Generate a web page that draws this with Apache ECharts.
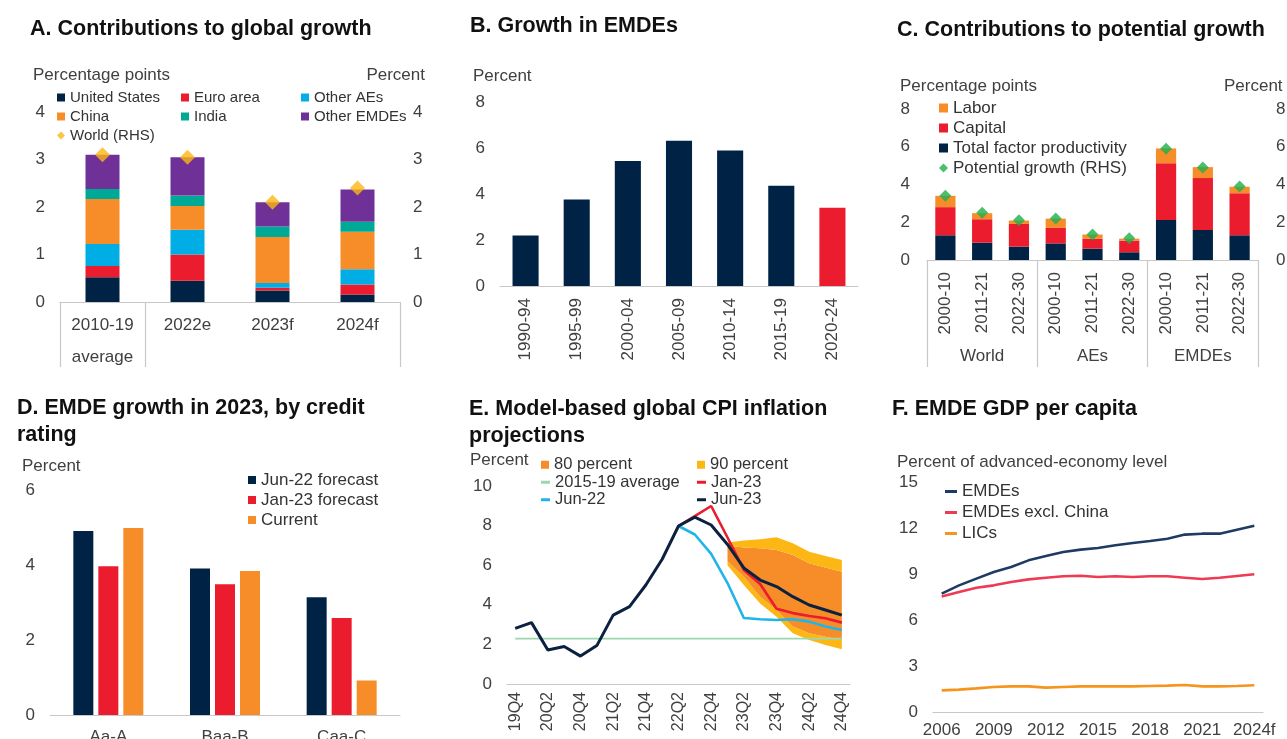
<!DOCTYPE html>
<html>
<head>
<meta charset="utf-8">
<title>Global outlook</title>
<script src="https://cdn.jsdelivr.net/npm/echarts@6.0.0/dist/echarts.min.js"></script>
<style>
  html, body { margin: 0; padding: 0; background: #fff; }
  #chart { width: 1287px; height: 739px; }
</style>
</head>
<body>
<div id="chart"></div>
<script>
// ===== A. Contributions to global growth =====
var aCategories = ['2010-19\naverage', '2022e', '2023f', '2024f'];
var usContrib = [0.52, 0.45, 0.24, 0.16];
var euroContrib = [0.24, 0.55, 0.06, 0.21];
var otherAEContrib = [0.46, 0.52, 0.10, 0.32];
var chinaContrib = [0.95, 0.50, 0.97, 0.79];
var indiaContrib = [0.21, 0.22, 0.22, 0.21];
var otherEMDEContrib = [0.72, 0.81, 0.51, 0.68];
var worldGrowth = [3.1, 3.05, 2.1, 2.4];

// ===== B. Growth in EMDEs =====
var bCategories = ['1990-94', '1995-99', '2000-04', '2005-09', '2010-14', '2015-19', '2020-24'];
var emdeGrowth = [2.2, 3.76, 5.44, 6.31, 5.89, 4.36, 3.4];
var bHighlighted = '2020-24';

// ===== C. Contributions to potential growth =====
var cCategories = ['2000-10', '2011-21', '2022-30', '2000-10', '2011-21', '2022-30', '2000-10', '2011-21', '2022-30'];
var cGroups = ['World', 'AEs', 'EMDEs'];
var tfpContrib = [1.31, 0.92, 0.71, 0.88, 0.60, 0.41, 2.12, 1.59, 1.31];
var capitalContrib = [1.49, 1.24, 1.20, 0.82, 0.53, 0.62, 3.01, 2.75, 2.23];
var laborContrib = [0.60, 0.32, 0.18, 0.49, 0.22, 0.10, 0.78, 0.58, 0.34];
var potentialGrowth = [3.4, 2.5, 2.1, 2.2, 1.35, 1.15, 5.9, 4.9, 3.9];

// ===== D. EMDE growth in 2023, by credit rating =====
var dCategories = ['Aa-A', 'Baa-B', 'Caa-C'];
var jun22Forecast = [4.91, 3.91, 3.14];
var jan23Forecast = [3.97, 3.49, 2.59];
var currentForecast = [4.99, 3.84, 0.92];

// ===== E. Model-based global CPI inflation projections =====
var eQuarters = ['19Q4', '20Q1', '20Q2', '20Q3', '20Q4', '21Q1', '21Q2', '21Q3', '21Q4', '22Q1', '22Q2',
  '22Q3', '22Q4', '23Q1', '23Q2', '23Q3', '23Q4', '24Q1', '24Q2', '24Q3', '24Q4'];
var cpiJun23 = [2.81, 3.10, 1.72, 1.89, 1.41, 1.94, 3.48, 3.91, 5.0, 6.30, 7.98, 8.43, 8.03, 7.05, 5.86, 5.25, 4.92, 4.41, 3.99, 3.74, 3.48];
var cpiJan23 = [null, null, null, null, null, null, null, null, null, null, 7.98, 8.48, 8.99, 7.4, 5.76, 5.05, 3.8, 3.58, 3.43, 3.32, 3.1];
var cpiJun22 = [null, null, null, null, null, null, null, null, null, null, 7.98, 7.55, 6.57, 5.1, 3.33, 3.27, 3.23, 3.27, 3.15, 2.9, 2.73];
var cpiAvg1519 = [2.29, 2.29, 2.29, 2.29, 2.29, 2.29, 2.29, 2.29, 2.29, 2.29, 2.29, 2.29, 2.29, 2.29, 2.29, 2.29, 2.29, 2.29, 2.29, 2.29, 2.29];
// fan chart bounds
var band90Low = [null, null, null, null, null, null, null, null, null, null, null, null, null, 6.0, 5.0, 4.07, 3.4, 2.56, 2.22, 1.97, 1.75];
var band80Low = [null, null, null, null, null, null, null, null, null, null, null, null, null, 6.2, 5.42, 4.41, 3.74, 2.9, 2.56, 2.39, 2.22];
var band80High = [null, null, null, null, null, null, null, null, null, null, null, null, null, 7.0, 6.9, 6.85, 6.77, 6.52, 6.10, 5.89, 5.67];
var band90High = [null, null, null, null, null, null, null, null, null, null, null, null, null, 7.15, 7.25, 7.31, 7.41, 7.11, 6.68, 6.46, 6.26];

// ===== F. EMDE GDP per capita =====
var fYears = ['2006', '2007', '2008', '2009', '2010', '2011', '2012', '2013', '2014', '2015', '2016',
  '2017', '2018', '2019', '2020', '2021', '2022', '2023', '2024f'];
var gdpEMDEs = [7.72, 8.26, 8.7, 9.13, 9.46, 9.89, 10.17, 10.43, 10.59, 10.7, 10.87, 11.02, 11.15, 11.3, 11.57, 11.63, 11.63, 11.89, 12.15];
var gdpExChina = [7.54, 7.83, 8.1, 8.26, 8.48, 8.65, 8.76, 8.85, 8.89, 8.8, 8.85, 8.8, 8.85, 8.85, 8.76, 8.67, 8.76, 8.87, 8.98];
var gdpLICs = [1.41, 1.46, 1.54, 1.63, 1.67, 1.67, 1.59, 1.63, 1.67, 1.67, 1.67, 1.67, 1.70, 1.72, 1.76, 1.67, 1.67, 1.70, 1.74];

// colours
var NAVY = '#002345';
var RED = '#EB1C2D';
var CYAN = '#00ADE4';
var ORANGE = '#F78D28';
var TEAL = '#00A996';
var PURPLE = '#6F3198';
var GOLD = '#FDB714';
var GREEN = '#1FAF4B';
var AXIS = '#C8C8C8';
var LABEL = '#404040';
var FONT = '"Liberation Sans", Arial, sans-serif';

// stacked band pieces: difference between two read bounds
function bandPiece(top, bottom) {
  return top.map(function (v, i) {
    return v == null ? null : +(v - bottom[i]).toFixed(3);
  });
}

function tickLabel(extra) {
  return Object.assign({ color: LABEL, fontSize: 17, fontFamily: FONT }, extra || {});
}

function valueAxis(grid, max, step, extra) {
  var ax = {
    type: 'value', gridIndex: grid, min: 0, max: max, interval: step,
    splitLine: { show: false }, axisLine: { show: false }, axisTick: { show: false },
    axisLabel: tickLabel({ margin: 15 })
  };
  return Object.assign(ax, extra || {});
}

function categoryAxis(grid, data, label, extra) {
  var ax = {
    type: 'category', gridIndex: grid, data: data, position: 'bottom',
    axisLine: { show: true, lineStyle: { color: AXIS, width: 1.2 } },
    axisTick: { show: false },
    axisLabel: tickLabel(Object.assign({ interval: 0 }, label || {}))
  };
  return Object.assign(ax, extra || {});
}

// fixed-size plot box, labels may run off the page edge like the original
function box(left, top, width, height) {
  return { left: left, top: top, width: width, height: height, containLabel: false, outerBoundsMode: 'none' };
}

function heading(text, left, top) {
  return {
    text: text, left: left, top: top, padding: 0,
    textStyle: { fontSize: 21.5, fontWeight: 'bold', color: '#111', fontFamily: FONT, lineHeight: 27 }
  };
}

function unitLabel(text, pos) {
  return Object.assign({
    text: text, padding: 0,
    textStyle: { fontSize: 17, fontWeight: 'normal', color: LABEL, fontFamily: FONT, lineHeight: 19 }
  }, pos);
}

function legendBlock(names, left, top, rowHeight, iconW, iconH, fontSize) {
  return {
    orient: 'vertical', left: left, top: top, padding: 0, itemGap: 0,
    itemWidth: iconW, itemHeight: iconH, selectedMode: false,
    textStyle: { color: '#333', fontSize: fontSize, fontFamily: FONT, lineHeight: rowHeight },
    data: names
  };
}

// short thick dash used as legend key for line series
function dashKeys(names) {
  return names.map(function (n) { return { name: n, icon: 'rect' }; });
}

function line(name, data, color, width, x, y) {
  return {
    name: name, type: 'line', xAxisIndex: x, yAxisIndex: y, data: data,
    symbol: 'none', lineStyle: { color: color, width: width }, itemStyle: { color: color }
  };
}

function bandSeries(name, data, color) {
  return {
    name: name, type: 'line', stack: 'fan', xAxisIndex: 5, yAxisIndex: 6, data: data,
    symbol: 'none', lineStyle: { width: 0 }, itemStyle: { color: color },
    areaStyle: { color: color, opacity: 1 }, silent: true
  };
}

var chart = echarts.init(document.getElementById('chart'), null, { renderer: 'canvas' });

var option = {
  animation: false,
  backgroundColor: '#fff',
  textStyle: { fontFamily: FONT },
  title: [
    heading('A. Contributions to global growth', 30, 16),
    heading('B. Growth in EMDEs', 470, 13),
    heading('C. Contributions to potential growth', 897, 17),
    heading('D. EMDE growth in 2023, by credit\nrating', 17, 395),
    heading('E. Model-based global CPI inflation\nprojections', 469, 396),
    heading('F. EMDE GDP per capita', 892, 396),
    unitLabel('Percentage points', { left: 33, top: 66 }),
    unitLabel('Percent', { right: 862, top: 66 }),
    unitLabel('Percent', { left: 473, top: 67 }),
    unitLabel('Percentage points', { left: 900, top: 77 }),
    unitLabel('Percent', { left: 1224, top: 77 }),
    unitLabel('Percent', { left: 22, top: 457 }),
    unitLabel('Percent', { left: 470, top: 451 }),
    unitLabel('Percent of advanced-economy level', { left: 897, top: 453 })
  ],
  legend: [
    // A: three columns
    legendBlock([{ name: 'United States', icon: 'rect' }, { name: 'China', icon: 'rect' }, { name: 'World (RHS)', icon: 'diamond' }], 57, 88, 19, 8, 8, 15),
    legendBlock([{ name: 'Euro area', icon: 'rect' }, { name: 'India', icon: 'rect' }], 181, 88, 19, 8, 8, 15),
    legendBlock([{ name: 'Other AEs', icon: 'rect' }, { name: 'Other EMDEs', icon: 'rect' }], 301, 88, 19, 8, 8, 15),
    // C
    legendBlock([{ name: 'Labor', icon: 'rect' }, { name: 'Capital', icon: 'rect' }, { name: 'Total factor productivity', icon: 'rect' }, { name: 'Potential growth (RHS)', icon: 'diamond' }], 939, 98, 20, 9, 9, 17),
    // D
    legendBlock([{ name: 'Jun-22 forecast', icon: 'rect' }, { name: 'Jan-23 forecast', icon: 'rect' }, { name: 'Current', icon: 'rect' }], 248, 470, 20, 8, 8, 17),
    // E: two columns, band keys on the first row, line keys below
    legendBlock([{ name: '80 percent', icon: 'rect' }], 541, 456, 17.5, 8, 8, 16.5),
    legendBlock(dashKeys(['2015-19 average', 'Jun-22']), 541, 473.5, 17.5, 9, 3, 16.5),
    legendBlock([{ name: '90 percent', icon: 'rect' }], 697, 456, 17.5, 8, 8, 16.5),
    legendBlock(dashKeys(['Jan-23', 'Jun-23']), 697, 473.5, 17.5, 9, 3, 16.5),
    // F
    legendBlock(dashKeys(['EMDEs', 'EMDEs excl. China', 'LICs']), 945, 481, 21, 12, 3, 17)
  ],
  grid: [
    box(60, 112, 340, 190),
    box(500, 102, 358, 184),
    box(927, 109, 331, 151),
    box(50, 490, 350, 225),
    box(507, 486, 343, 198),
    box(933, 482, 330, 230)
  ],
  xAxis: [
    // A: boxes under the first category and around the forecasts
    categoryAxis(0, aCategories, { margin: 7, lineHeight: 32 }, {
      axisTick: {
        show: true, length: 65, lineStyle: { color: AXIS, width: 1.2 },
        interval: function (i) { return i < 2; }
      }
    }),
    categoryAxis(1, bCategories, { rotate: 90, margin: 12 }),
    categoryAxis(2, cCategories, { rotate: 90, margin: 12 }),
    // C: group labels with long separators
    categoryAxis(2, cGroups, { margin: 88 }, {
      axisLine: { show: false },
      axisTick: { show: true, length: 107, lineStyle: { color: AXIS, width: 1.2 } }
    }),
    categoryAxis(3, dCategories, { margin: 14 }),
    categoryAxis(4, eQuarters, { rotate: 90, margin: 8, interval: 1, fontSize: 16 }),
    categoryAxis(5, fYears, { margin: 10, interval: 2 })
  ],
  yAxis: [
    valueAxis(0, 4, 1),
    valueAxis(0, 4, 1, { position: 'right', axisLabel: tickLabel({ margin: 13 }) }),
    valueAxis(1, 8, 2),
    valueAxis(2, 8, 2, { axisLabel: tickLabel({ margin: 17 }) }),
    valueAxis(2, 8, 2, { position: 'right', axisLabel: tickLabel({ margin: 18 }) }),
    valueAxis(3, 6, 2),
    valueAxis(4, 10, 2),
    valueAxis(5, 15, 3)
  ],
  series: [
    // ---- A ----
    { name: 'United States', type: 'bar', stack: 'a', xAxisIndex: 0, yAxisIndex: 0, barWidth: '40%', data: usContrib, itemStyle: { color: NAVY } },
    { name: 'Euro area', type: 'bar', stack: 'a', xAxisIndex: 0, yAxisIndex: 0, data: euroContrib, itemStyle: { color: RED } },
    { name: 'Other AEs', type: 'bar', stack: 'a', xAxisIndex: 0, yAxisIndex: 0, data: otherAEContrib, itemStyle: { color: CYAN } },
    { name: 'China', type: 'bar', stack: 'a', xAxisIndex: 0, yAxisIndex: 0, data: chinaContrib, itemStyle: { color: ORANGE } },
    { name: 'India', type: 'bar', stack: 'a', xAxisIndex: 0, yAxisIndex: 0, data: indiaContrib, itemStyle: { color: TEAL } },
    { name: 'Other EMDEs', type: 'bar', stack: 'a', xAxisIndex: 0, yAxisIndex: 0, data: otherEMDEContrib, itemStyle: { color: PURPLE } },
    { name: 'World (RHS)', type: 'scatter', xAxisIndex: 0, yAxisIndex: 1, data: worldGrowth, symbol: 'diamond', symbolSize: 15, itemStyle: { color: GOLD }, z: 5 },

    // ---- B ----
    {
      name: 'EMDE growth', type: 'bar', xAxisIndex: 1, yAxisIndex: 2, barWidth: '51%', data: emdeGrowth,
      itemStyle: { color: function (p) { return p.name === bHighlighted ? RED : NAVY; } }
    },

    // ---- C ----
    { name: 'Total factor productivity', type: 'bar', stack: 'c', xAxisIndex: 2, yAxisIndex: 3, barWidth: '55%', data: tfpContrib, itemStyle: { color: NAVY } },
    { name: 'Capital', type: 'bar', stack: 'c', xAxisIndex: 2, yAxisIndex: 3, data: capitalContrib, itemStyle: { color: RED } },
    { name: 'Labor', type: 'bar', stack: 'c', xAxisIndex: 2, yAxisIndex: 3, data: laborContrib, itemStyle: { color: ORANGE } },
    { name: 'Potential growth (RHS)', type: 'scatter', xAxisIndex: 2, yAxisIndex: 4, data: potentialGrowth, symbol: 'diamond', symbolSize: 12, itemStyle: { color: GREEN }, z: 5 },

    // ---- D ----
    { name: 'Jun-22 forecast', type: 'bar', xAxisIndex: 4, yAxisIndex: 5, barWidth: 20, barGap: '25%', data: jun22Forecast, itemStyle: { color: NAVY } },
    { name: 'Jan-23 forecast', type: 'bar', xAxisIndex: 4, yAxisIndex: 5, barWidth: 20, barGap: '25%', data: jan23Forecast, itemStyle: { color: RED } },
    { name: 'Current', type: 'bar', xAxisIndex: 4, yAxisIndex: 5, barWidth: 20, barGap: '25%', data: currentForecast, itemStyle: { color: ORANGE } },

    // ---- E ---- fan chart stacked from the 90 percent lower bound
    { name: 'fan base', type: 'line', stack: 'fan', xAxisIndex: 5, yAxisIndex: 6, data: band90Low, symbol: 'none', lineStyle: { width: 0 }, silent: true },
    bandSeries('90 percent', bandPiece(band80Low, band90Low), GOLD),
    bandSeries('80 percent', bandPiece(band80High, band80Low), ORANGE),
    bandSeries('90 percent', bandPiece(band90High, band80High), GOLD),
    line('2015-19 average', cpiAvg1519, '#9BD8B0', 1.8, 5, 6),
    line('Jun-22', cpiJun22, '#1FB5EA', 2.6, 5, 6),
    line('Jan-23', cpiJan23, RED, 2.6, 5, 6),
    line('Jun-23', cpiJun23, '#0B2140', 3, 5, 6),

    // ---- F ----
    line('EMDEs', gdpEMDEs, '#1F3B63', 2.6, 6, 7),
    line('EMDEs excl. China', gdpExChina, '#EE3A52', 2.6, 6, 7),
    line('LICs', gdpLICs, '#F7941D', 2.6, 6, 7)
  ]
};

chart.setOption(option);
</script>
</body>
</html>
